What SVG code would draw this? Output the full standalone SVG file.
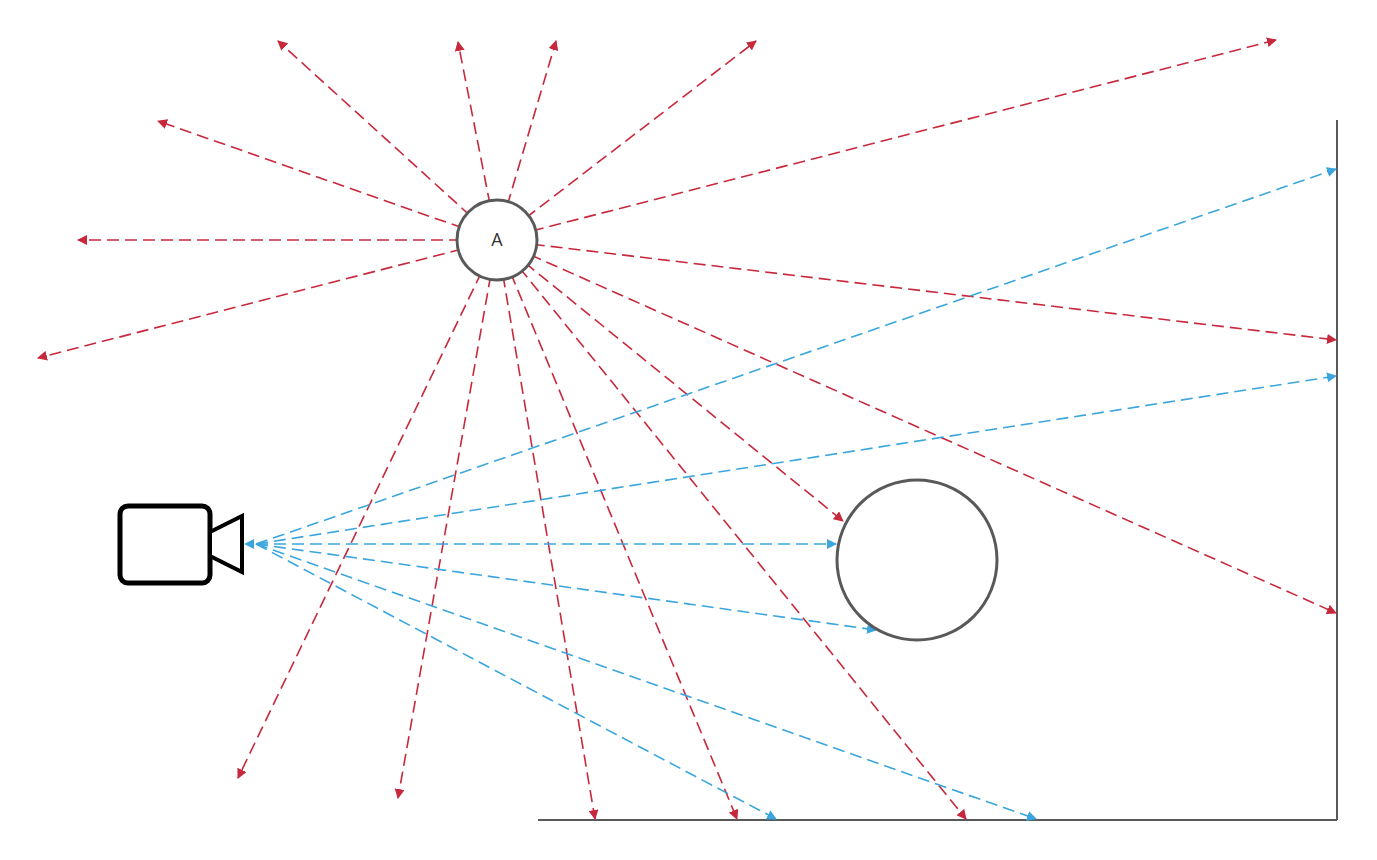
<svg xmlns="http://www.w3.org/2000/svg" width="1377" height="860" viewBox="0 0 1377 860">
<style>
.r{stroke:#c8283c;stroke-width:1.6;stroke-dasharray:12 6;fill:none;marker-end:url(#ar)}
.b{stroke:#3aa6dd;stroke-width:1.6;stroke-dasharray:12 6;fill:none;marker-end:url(#ab)}
.n{fill:#fff;stroke:#595959;stroke-width:3}
</style>
<defs>
<marker id="ar" viewBox="0 0 10 10" refX="9" refY="5" markerWidth="10" markerHeight="10" markerUnits="userSpaceOnUse" orient="auto"><path d="M0,0L10,5L0,10Z" fill="#c8283c"/></marker>
<marker id="ab" viewBox="0 0 10 10" refX="9" refY="5" markerWidth="10" markerHeight="10" markerUnits="userSpaceOnUse" orient="auto"><path d="M0,0L10,5L0,10Z" fill="#3aa6dd"/></marker>
</defs>
<rect width="1377" height="860" fill="#fff"/>
<g id="walls" stroke="#595959" stroke-width="2"><line x1="1337" y1="120" x2="1337" y2="820"/><line x1="538" y1="820" x2="1337" y2="820"/></g>
<g id="connectors">
<line class="r" x1="497" y1="240" x2="278" y2="41"/>
<line class="r" x1="497" y1="240" x2="458" y2="42"/>
<line class="r" x1="497" y1="240" x2="556" y2="41"/>
<line class="r" x1="497" y1="240" x2="756" y2="41"/>
<line class="r" x1="497" y1="240" x2="1276" y2="40"/>
<line class="r" x1="497" y1="240" x2="158" y2="121"/>
<line class="r" x1="497" y1="240" x2="78" y2="240"/>
<line class="r" x1="497" y1="240" x2="38" y2="358"/>
<line class="r" x1="497" y1="240" x2="238" y2="778"/>
<line class="r" x1="497" y1="240" x2="398" y2="798"/>
<line class="r" x1="497" y1="240" x2="595" y2="819"/>
<line class="r" x1="497" y1="240" x2="737" y2="819"/>
<line class="r" x1="497" y1="240" x2="966" y2="819"/>
<line class="r" x1="497" y1="240" x2="843" y2="521"/>
<line class="r" x1="497" y1="240" x2="1336" y2="340"/>
<line class="r" x1="497" y1="240" x2="1336" y2="613"/>
<line class="b" x1="256" y1="544" x2="1336" y2="169"/>
<line class="b" x1="256" y1="544" x2="1336" y2="376"/>
<line class="b" x1="256" y1="544" x2="836" y2="544"/>
<line class="b" x1="256" y1="544" x2="876" y2="630"/>
<line class="b" x1="256" y1="544" x2="776" y2="819"/>
<line class="b" x1="256" y1="544" x2="1036" y2="819"/>
<path d="M244,544L254,539L254,549Z" fill="#3aa6dd"/>
</g>
<g id="A"><circle class="n" cx="497" cy="240" r="40"/><text x="497" y="246" text-anchor="middle" font-family="Open Sans, sans-serif" font-size="18" fill="#333">A</text></g>
<g id="obstacle"><circle class="n" cx="917" cy="560" r="80"/></g>
<g id="camera" fill="#fff" stroke="#000" stroke-width="5" stroke-linejoin="miter"><rect x="120" y="506" width="90" height="77" rx="8"/><path d="M210,532L242,516L242,572L210,556Z" stroke-width="4"/></g>
</svg>
